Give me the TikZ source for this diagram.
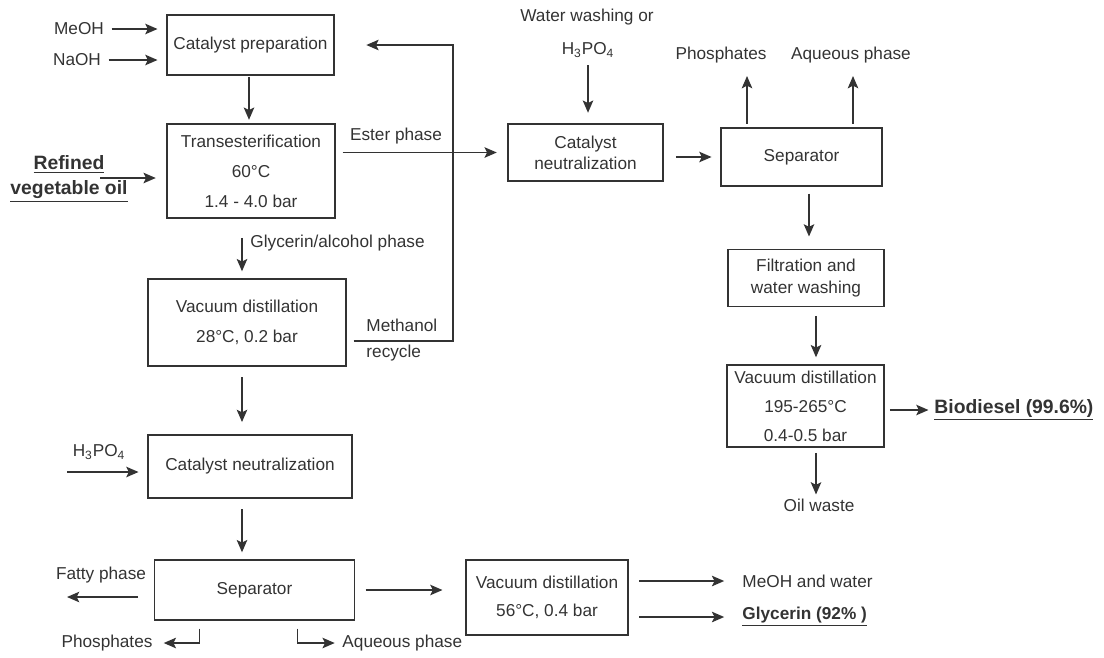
\documentclass[tikz,border=0pt]{standalone}
\usepackage{fontspec}
\setmainfont{Liberation Sans}
\usetikzlibrary{arrows.meta,positioning,calc}

\begin{document}
\begin{tikzpicture}[
	x=0.02cm,y=-0.02cm,
	font=\fontsize{9.8}{12}\selectfont,
	color=black!80,
	line width=0.8pt,
	unit/.style={draw,rectangle,inner sep=2pt,align=center},
	unitwide/.style={unit,font=\fontsize{9.8}{17}\selectfont},
	stream/.style={inner sep=1pt,align=center},
	product/.style={stream,font=\fontsize{11}{13}\selectfont\bfseries},
	arr/.style={-{Stealth[length=7pt,width=6pt,inset=1.5pt]},line width=0.8pt}
	]
	\useasboundingbox (0,0) rectangle (1104,657);

	% Ramo sinistro: preparazione e reazione
	\node[unit,minimum width=3.34cm,minimum height=1.2cm] (prep) at (250.5,45) {Catalyst preparation};
	\node[unitwide,minimum width=3.36cm,minimum height=1.88cm] (trans) at (251,171) {Transesterification\\60°C\\1.4 - 4.0 bar};
	\node[unitwide,minimum width=3.96cm,minimum height=1.74cm] (vac1) at (247,322.5) {Vacuum distillation\\28°C, 0.2 bar};
	\node[unit,minimum width=4.08cm,minimum height=1.26cm] (cneut2) at (250,466.5) {Catalyst neutralization};
	\node[unit,minimum width=4.0cm,minimum height=1.2cm] (sep2) at (254.5,590) {Separator};
	\node[unitwide,minimum width=3.24cm,minimum height=1.5cm,font=\fontsize{9.8}{16}\selectfont] (vac2) at (547,597.5) {Vacuum distillation\\56°C, 0.4 bar};

	% Ramo destro: purificazione estere
	\node[unit,minimum width=3.1cm,minimum height=1.14cm] (cneut1) at (585.5,152.5) {Catalyst\\neutralization};
	\node[unit,minimum width=3.22cm,minimum height=1.16cm] (sep1) at (801.5,157) {Separator};
	\node[unit,minimum width=3.12cm,minimum height=1.14cm] (filt) at (806,278) {Filtration and\\water washing};
	\node[unit,minimum width=3.14cm,minimum height=1.64cm,font=\fontsize{9.8}{16.5}\selectfont] (vac3) at (805.5,406) {Vacuum distillation\\195-265°C\\0.4-0.5 bar};

	% Correnti in ingresso e in uscita
	\node[stream] (meoh) at (79,29) {MeOH};
	\node[stream] (naoh) at (77,60) {NaOH};
	\node[product,font=\fontsize{11}{14.5}\selectfont\bfseries] (oil) at (69,179) {\underline{Refined}\\\underline{vegetable oil}};
	\coordinate (oilin) at (100,178);
	\node[stream] (ester) at (396,136) {Ester phase};
	\node[stream,anchor=west] (glyc) at (248,243) {Glycerin/alcohol phase};
	\node[stream,anchor=west] (meth) at (364,325) {Methanol};
	\node[stream,anchor=west] (recy) at (364,353) {recycle};
	\coordinate (rc) at (453,341);
	\node[stream] (wash) at (587,17) {Water washing or};
	\node[stream] (h3a) at (588,50) {H\textsubscript{3}PO\textsubscript{4}};
	\node[stream] (phos1) at (721,55) {Phosphates};
	\node[stream] (aq1) at (851,55) {Aqueous phase};
	\node[product,anchor=west] (bio) at (932,410) {\underline{Biodiesel (99.6\%)}};
	\node[stream] (waste) at (819,505) {Oil waste};
	\node[stream] (h3b) at (99,452) {H\textsubscript{3}PO\textsubscript{4}};
	\coordinate (hin) at (67,472);
	\node[stream] (fatty) at (101,575) {Fatty phase};
	\coordinate (fout) at (67,597);
	\node[stream] (phos2) at (107,643) {Phosphates};
	\node[stream,anchor=west] (aq2) at (340,643) {Aqueous phase};
	\node[stream,anchor=west] (meohw) at (740,581) {MeOH and water};
	\node[stream,anchor=west,font=\fontsize{9.8}{12}\selectfont\bfseries] (glyout) at (740,617) {\underline{Glycerin (92\% )}};

	% Connessioni ramo sinistro
	\draw[arr,shorten <=3pt,shorten >=5pt] (meoh.east) -- (meoh -| prep.west);
	\draw[arr,shorten <=3pt,shorten >=5pt] (naoh.east) -- (naoh -| prep.west);
	\draw[arr,shorten <=1pt,shorten >=2pt] (prep.south -| 249,0) -- (trans.north -| 249,0);
	\draw[arr,shorten >=6pt] (oilin) -- (oilin -| trans.west);
	\draw[arr,shorten <=4pt,shorten >=6pt] (trans.east |- cneut1.west) -- (cneut1.west);
	\draw[arr,shorten <=6pt,shorten >=4pt] (vac1.north -| 242,0) ++(0,-51) -- (vac1.north -| 242,0);
	\draw[arr,shorten <=4pt,shorten >=18pt] (vac1.east |- rc) -- (rc) |- (prep.east);
	\draw[arr,shorten <=6pt,shorten >=7pt] (vac1.south -| 242,0) -- (cneut2.north -| 242,0);
	\draw[arr,shorten >=5pt] (hin) -- (hin -| cneut2.west);
	\draw[arr,shorten <=6pt,shorten >=4pt] (cneut2.south -| 242,0) -- (sep2.north -| 242,0);
	\draw[arr,shorten <=9pt] (fout -| sep2.west) -- (fout);
	\draw[arr,shorten >=5pt] ($(sep2.south)+(-55,8)$) |- (phos2);
	\draw[arr,shorten >=3pt] ($(sep2.south)+(43,8)$) |- (aq2);
	\draw[arr,shorten <=6pt,shorten >=13pt] (sep2.east) -- (sep2.east -| vac2.west);
	\draw[arr,shorten <=6pt,shorten >=9pt] (vac2.east |- meohw) -- (meohw);
	\draw[arr,shorten <=6pt,shorten >=9pt] (vac2.east |- glyout) -- (glyout);

	% Connessioni ramo destro
	\draw[arr,shorten <=3pt,shorten >=6pt] (h3a) -- (h3a |- cneut1.north);
	\draw[arr,shorten <=7pt,shorten >=5pt] (cneut1.east |- sep1.west) -- (sep1.west);
	\draw[arr,shorten <=2pt,shorten >=6pt] (sep1.north -| phos1.south -| 747,0) -- (phos1.south -| 747,0);
	\draw[arr,shorten <=2pt,shorten >=6pt] (sep1.north -| 853,0) -- (aq1.south -| 853,0);
	\draw[arr,shorten <=4pt,shorten >=7pt] (sep1.south -| 809,0) -- (filt.north -| 809,0);
	\draw[arr,shorten <=5pt,shorten >=4pt] (filt.south -| 816,0) -- (vac3.north -| 816,0);
	\draw[arr,shorten <=3pt,shorten >=2pt] (vac3.east |- bio.west) -- (bio.west);
	\draw[arr,shorten <=3pt,shorten >=1pt] (vac3.south -| 816,0) -- (waste.north -| 816,0);
\end{tikzpicture}
\end{document}
